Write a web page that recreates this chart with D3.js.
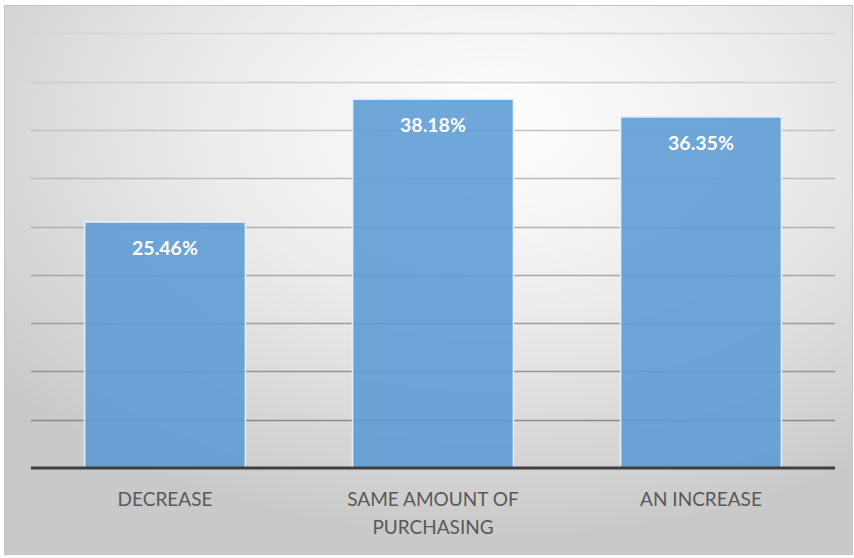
<!DOCTYPE html>
<html>
<head>
<meta charset="utf-8">
<script src="https://cdn.jsdelivr.net/npm/d3@7"></script>
<style>
  html, body { margin: 0; padding: 0; background: #ffffff; }
  svg { display: block; }
</style>
</head>
<body>
<svg id="chart" width="854" height="558"></svg>
<script>
const categories = [["DECREASE"], ["SAME AMOUNT OF", "PURCHASING"], ["AN INCREASE"]];
const categoryKeys = ["DECREASE", "SAME AMOUNT OF PURCHASING", "AN INCREASE"];
const values = [25.46, 38.18, 36.35];
const valueLabels = ["25.46%", "38.18%", "36.35%"];
const gridTicks = [5, 10, 15, 20, 25, 30, 35, 40, 45];

const svg = d3.select("#chart");
const defs = svg.append("defs");
const bg = defs.append("radialGradient")
  .attr("id", "bgGrad")
  .attr("cx", "58%").attr("cy", "22%").attr("r", "75%")
  .attr("fx", "58%").attr("fy", "22%");
bg.append("stop").attr("offset", "0%").attr("stop-color", "#ffffff");
bg.append("stop").attr("offset", "45%").attr("stop-color", "#ececec");
bg.append("stop").attr("offset", "100%").attr("stop-color", "#c9c9c9");

svg.append("rect")
  .attr("x", 4.5).attr("y", 5.5).attr("width", 848).attr("height", 549)
  .attr("fill", "url(#bgGrad)")
  .attr("stroke", "#c4c4c4").attr("stroke-width", 1);

const x = d3.scaleBand()
  .domain(categoryKeys)
  .range([31, 835])
  .paddingInner(0.4)
  .paddingOuter(0.2);

const y = d3.scaleLinear()
  .domain([0, 45])
  .range([468, 33.3]);

const gridColor = d3.scaleLinear().domain([45, 5]).range(["#d6d6d6", "#8a8a8a"]);

svg.append("g").selectAll("line")
  .data(gridTicks)
  .join("line")
  .attr("x1", 31).attr("x2", 835)
  .attr("y1", d => Math.round(y(d)) + 0.5)
  .attr("y2", d => Math.round(y(d)) + 0.5)
  .attr("stroke", d => gridColor(d))
  .attr("stroke-width", 1.6);

const data = categoryKeys.map((k, i) => ({ key: k, lines: categories[i], value: values[i], label: valueLabels[i] }));

svg.append("g").selectAll("rect")
  .data(data)
  .join("rect")
  .attr("x", d => x(d.key))
  .attr("y", d => y(d.value))
  .attr("width", x.bandwidth())
  .attr("height", d => y(0) - y(d.value))
  .attr("fill", "#5b9bd5")
  .attr("fill-opacity", 0.88)
  .attr("stroke", "#e6f0fa")
  .attr("stroke-width", 1.5);

// baseline axis
svg.append("line")
  .attr("x1", 31).attr("x2", 835)
  .attr("y1", y(0)).attr("y2", y(0))
  .attr("stroke", "#3f3f3f")
  .attr("stroke-width", 3);

// data labels
svg.append("g").selectAll("text")
  .data(data)
  .join("text")
  .attr("x", d => x(d.key) + x.bandwidth() / 2)
  .attr("y", d => y(d.value) + 33)
  .attr("text-anchor", "middle")
  .attr("fill", "#ffffff")
  .attr("font-family", "Lato, 'Open Sans', sans-serif")
  .attr("font-weight", "bold")
  .attr("font-size", "19.5px")
  .text(d => d.label);

// category labels
const catG = svg.append("g").selectAll("text")
  .data(data)
  .join("text")
  .attr("x", d => x(d.key) + x.bandwidth() / 2)
  .attr("y", 506)
  .attr("text-anchor", "middle")
  .attr("fill", "#595959")
  .attr("font-family", "Lato, 'Open Sans', sans-serif")
  .attr("font-size", "19px");
catG.selectAll("tspan")
  .data(d => d.lines.map(l => ({ l, cx: x(d.key) + x.bandwidth() / 2 })))
  .join("tspan")
  .attr("x", t => t.cx)
  .attr("dy", (t, i) => i === 0 ? 0 : 28)
  .text(t => t.l);
</script>
</body>
</html>
